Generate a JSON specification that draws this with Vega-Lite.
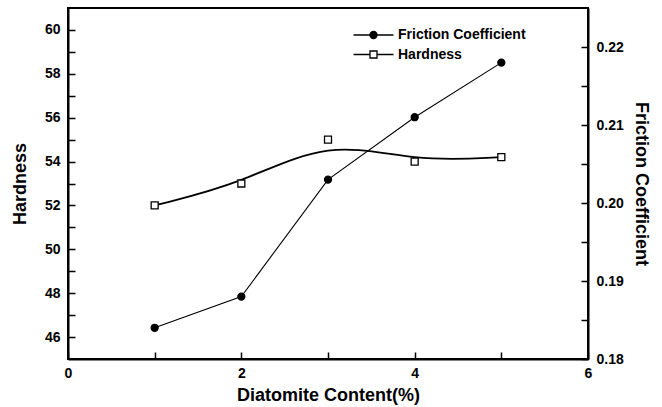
{
  "$schema": "https://vega.github.io/schema/vega-lite/v6.json",
  "width": 520,
  "height": 351,
  "autosize": {"type": "none"},
  "padding": {"left": 68, "top": 8, "right": 74, "bottom": 48},
  "config": {
    "font": "Liberation Sans",
    "view": {"stroke": "black", "strokeWidth": 2},
    "axis": {
      "grid": false,
      "domainColor": "black",
      "domainWidth": 2,
      "ticks": true,
      "tickColor": "black",
      "tickWidth": 1.5,
      "tickSize": -7,
      "labelFont": "Liberation Sans",
      "labelFontSize": 14,
      "labelFontWeight": "bold",
      "labelColor": "black",
      "labelFlush": false,
      "labelOverlap": false,
      "titleFont": "Liberation Sans",
      "titleFontSize": 18,
      "titleFontWeight": "bold",
      "titleColor": "black"
    },
    "legend": {
      "title": null,
      "orient": "none",
      "padding": 0,
      "labelOffset": 17.5,
      "labelFont": "Liberation Sans",
      "labelFontSize": 14,
      "labelFontWeight": "bold",
      "labelColor": "black",
      "symbolSize": 49,
      "symbolOpacity": 1,
      "symbolStrokeColor": "black",
      "symbolStrokeWidth": 1.3
    }
  },
  "data": {
    "values": [
      {"content": 1, "series": "Hardness", "value": 52.0},
      {"content": 2, "series": "Hardness", "value": 53.0},
      {"content": 3, "series": "Hardness", "value": 55.0},
      {"content": 4, "series": "Hardness", "value": 54.0},
      {"content": 5, "series": "Hardness", "value": 54.2},
      {"content": 1, "series": "Friction Coefficient", "value": 0.184},
      {"content": 2, "series": "Friction Coefficient", "value": 0.188},
      {"content": 3, "series": "Friction Coefficient", "value": 0.203},
      {"content": 4, "series": "Friction Coefficient", "value": 0.211},
      {"content": 5, "series": "Friction Coefficient", "value": 0.218}
    ]
  },
  "encoding": {
    "x": {
      "field": "content",
      "type": "quantitative",
      "scale": {"domain": [0, 6], "nice": false, "zero": false},
      "axis": {
        "title": "Diatomite Content(%)",
        "values": [0, 1, 2, 3, 4, 5, 6],
        "labelExpr": "datum.value % 2 === 0 ? datum.label : ''",
        "labelPadding": 14,
        "titlePadding": 6,
        "encode": {"ticks": {"y2": {"condition": {"test": "datum.value % 2 === 0", "value": -7}, "value": -4}}}
      }
    }
  },
  "layer": [
    {
      "transform": [{"filter": "datum.series === 'Friction Coefficient'"}],
      "encoding": {
        "y": {
          "field": "value",
          "type": "quantitative",
          "scale": {"domain": [0.18, 0.225], "nice": false, "zero": false},
          "axis": {
            "orient": "right",
            "title": "Friction Coefficient",
            "values": [0.18, 0.185, 0.19, 0.195, 0.2, 0.205, 0.21, 0.215, 0.22],
            "format": ".2f",
            "labelExpr": "round(datum.value * 1000) % 10 === 0 ? datum.label : ''",
            "labelPadding": 15,
            "titlePadding": 8,
            "encode": {"ticks": {"x2": {"condition": {"test": "round(datum.value * 1000) % 10 === 0", "value": -7}, "value": -4}}}
          }
        }
      },
      "layer": [
        {"mark": {"type": "line", "color": "black", "strokeWidth": 1.1}},
        {
          "mark": {"type": "point", "shape": "circle", "filled": true, "opacity": 1, "stroke": "black", "strokeWidth": 1.3, "size": 49},
          "encoding": {
            "fill": {
              "field": "series", "type": "nominal",
              "scale": {"domain": ["Friction Coefficient"], "range": ["black"]},
              "legend": {
                "legendX": 298.5, "legendY": 20,
                "symbolType": "M-5.7,0H5.7M1,0A1,1,0,1,1,-1,0A1,1,0,1,1,1,0Z"
              }
            }
          }
        }
      ]
    },
    {
      "transform": [{"filter": "datum.series === 'Hardness'"}],
      "encoding": {
        "y": {
          "field": "value",
          "type": "quantitative",
          "scale": {"domain": [45, 61], "nice": false, "zero": false},
          "axis": {
            "orient": "left",
            "title": "Hardness",
            "values": [46, 47, 48, 49, 50, 51, 52, 53, 54, 55, 56, 57, 58, 59, 60],
            "labelExpr": "datum.value % 2 === 0 ? datum.label : ''",
            "labelPadding": 15,
            "titlePadding": 15,
            "encode": {"ticks": {"x2": {"condition": {"test": "datum.value % 2 === 0", "value": 7}, "value": 4}}}
          }
        }
      },
      "layer": [
        {"mark": {"type": "line", "interpolate": "basis", "color": "black", "strokeWidth": 1.8}},
        {
          "mark": {"type": "point", "shape": "square", "filled": true, "opacity": 1, "stroke": "black", "strokeWidth": 1.3, "size": 49},
          "encoding": {
            "fill": {
              "field": "series", "type": "nominal",
              "scale": {"domain": ["Hardness"], "range": ["white"]},
              "legend": {
                "legendX": 298.5, "legendY": 39.5,
                "symbolType": "M-5.7,0H-1M1,0H5.7M-1,-1H1V1H-1Z"
              }
            }
          }
        }
      ]
    }
  ],
  "resolve": {"scale": {"y": "independent", "fill": "independent"}}
}
